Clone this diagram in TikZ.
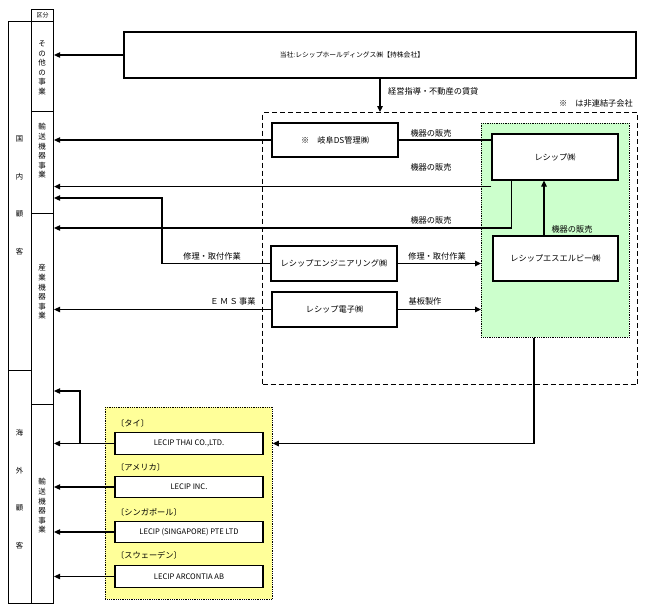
\documentclass[tikz,border=0pt]{standalone}
\usepackage{fontspec}
\setmainfont{Noto Sans CJK JP}
\usetikzlibrary{arrows.meta,calc}
\definecolor{greenfill}{HTML}{CCFFCC}
\definecolor{yellowfill}{HTML}{FFFF99}
\newcommand{\lblfont}{\fontsize{8.2}{9}\selectfont}
\newcommand{\latfont}{\fontsize{7.6}{9}\selectfont}
\tikzset{
  cell/.style={draw, line width=1.1pt, inner sep=0pt, anchor=north west},
  box/.style={draw, line width=1.1pt, fill=white, inner sep=0pt, font=\lblfont},
  lbox/.style={box, minimum width=148pt, minimum height=21.5pt, font=\latfont},
  conn/.style={line width=1.05pt},
  arr/.style={conn, -{Triangle[length=6pt,width=5.5pt]}},
  lbl/.style={font=\lblfont, inner sep=0pt},
  vt/.style={align=center, inner sep=0pt, font=\fontsize{7.5}{9.6}\selectfont},
  vtw/.style={align=center, inner sep=0pt, font=\fontsize{7.3}{37.5}\selectfont},
}
\begin{document}
\begin{tikzpicture}[x=1pt,y=-1pt]
\useasboundingbox (0,0) rectangle (646,611);
\fill[white] (0,0) rectangle (646,611);

% left columns
\node[cell, minimum width=22pt, minimum height=12pt] (hdr) at (31,9) {};
\node[font=\fontsize{6}{7}\selectfont, inner sep=0pt] (hdrt) at (hdr.center) {区分};
\node[cell, minimum width=23pt, minimum height=349pt] (dom) at (8,21) {};
\node[cell, minimum width=23pt, minimum height=233pt] (ovc) at (8,370) {};
\node[cell, minimum width=22pt, minimum height=90pt] (oth) at (31,21) {};
\node[cell, minimum width=22pt, minimum height=102pt] (dtr) at (31,111) {};
\node[cell, minimum width=22pt, minimum height=191pt] (ind) at (31,213) {};
\node[cell, minimum width=22pt, minimum height=199pt] (ovs) at (31,404) {};

\node[vt] (othT) at (42,68) {そ\\の\\他\\の\\事\\業};
\node[vt] (dtrT) at (42,151) {輸\\送\\機\\器\\事\\業};
\node[vt] (indT) at (42,292) {産\\業\\機\\器\\事\\業};
\node[vt] (ovsT) at (42,506) {輸\\送\\機\\器\\事\\業};
\node[vtw] (domT) at (19.5,195.5) {国\\内\\顧\\客};
\node[vtw] (ovcT) at (19.5,489) {海\\外\\顧\\客};

% holding company
\node[box, line width=1.6pt, minimum width=512pt, minimum height=46pt] (top) at (380,55) {};
\node[font=\fontsize{6.8}{8}\selectfont, inner sep=0pt] (topT) at (352,55) {当社:レシップホールディングス㈱【持株会社】};

% dashed group and green group
\node[draw, dashed, line width=1.4pt, dash pattern=on 5pt off 3pt, minimum width=375pt, minimum height=272pt, inner sep=0pt, anchor=north west] (grp) at (262,112) {};
\node[draw, densely dotted, line width=0.8pt, fill=greenfill, minimum width=148pt, minimum height=214pt, inner sep=0pt, anchor=north west] (green) at (481,123) {};

\node[lbl, anchor=east] (note) at (633,103) {※　は非連結子会社};

\node[box, minimum width=126pt, minimum height=34pt] (gifu) at (335,140) {※　岐阜DS管理㈱};
\node[box, minimum width=126pt, minimum height=46pt] (lecip) at (555,157) {レシップ㈱};
\node[box, minimum width=126pt, minimum height=35pt] (eng) at (334,263.5) {レシップエンジニアリング㈱};
\node[box, minimum width=125pt, minimum height=45pt] (slb) at (555.5,258.5) {レシップエスエルビー㈱};
\node[box, minimum width=125pt, minimum height=35pt] (denshi) at (334.5,309.5) {レシップ電子㈱};

% overseas group
\node[draw, densely dotted, line width=0.8pt, fill=yellowfill, minimum width=167pt, minimum height=192pt, inner sep=0pt, anchor=north west] (yellow) at (105,407) {};
\node[lbl, anchor=west] (thaiL) at (116,423) {〔タイ〕};
\node[lbox] (thai) at (189,443.5) {LECIP THAI CO.,LTD.};
\node[lbl, anchor=west] (incL) at (116,467.5) {〔アメリカ〕};
\node[lbox] (inc) at (189,487) {LECIP INC.};
\node[lbl, anchor=west] (singL) at (116,512) {〔シンガポール〕};
\node[lbox] (sing) at (189,532) {LECIP (SINGAPORE) PTE LTD};
\node[lbl, anchor=west] (arcL) at (116,555.5) {〔スウェーデン〕};
\node[lbox] (arc) at (189,576.5) {LECIP ARCONTIA AB};

% connectors
\draw[arr] (top.west) -- (top.west -| oth.east);
\draw[arr] (top.south) -- (top.south |- grp.north);
\node[lbl, anchor=west] (mgmt) at (388,91) {経営指導・不動産の賃貸};

\draw[conn] (gifu.east) -- (gifu.east -| lecip.west);
\node[lbl] (s1) at (431,133) {機器の販売};
\draw[arr] (gifu.west) -- (gifu.west -| dtr.east);

\coordinate (l2) at ($(lecip.south west)+(0,6)$);
\draw[arr] (l2) -- (l2 -| dtr.east);
\node[lbl] (s2) at (431,167) {機器の販売};

\coordinate (l3) at ($(lecip.south west)+(20,0)$);
\coordinate (y3) at (0,228);
\draw[arr] (l3) |- (y3 -| dtr.east);
\node[lbl] (s3) at (431,220) {機器の販売};

\coordinate (sa) at ($(slb.north)+(-11.5,0)$);
\draw[arr] (sa) -- (sa |- lecip.south);
\node[lbl] (s4) at (572,229) {機器の販売};

\coordinate (rx) at (162,198);
\draw[arr] (eng.west) -| (rx) -- (rx -| dtr.east);
\node[lbl] (r1) at (212,256) {修理・取付作業};
\draw[arr] (eng.east) -- (eng.east -| green.west);
\node[lbl] (r2) at (437,256) {修理・取付作業};

\draw[arr] (denshi.west) -- (denshi.west -| ind.east);
\node[lbl] (ems) at (233,301.5) {Ｅ\,Ｍ\,Ｓ\,事業};
\draw[arr] (denshi.east) -- (denshi.east -| green.west);
\node[lbl] (kiban) at (425,301.5) {基板製作};

\coordinate (gx) at ($(green.south west)+(53,0)$);
\draw[arr] (gx) |- (thai.east -| yellow.east);

\draw[arr] (thai.west) -- (thai.west -| ovs.east);
\coordinate (jx) at (80,391);
\draw[arr] (thai.west -| jx) -- (jx) -- (jx -| ind.east);
\draw[arr] (inc.west) -- (inc.west -| ovs.east);
\draw[arr] (sing.west) -- (sing.west -| ovs.east);
\draw[arr] (arc.west) -- (arc.west -| ovs.east);
\end{tikzpicture}
\end{document}
